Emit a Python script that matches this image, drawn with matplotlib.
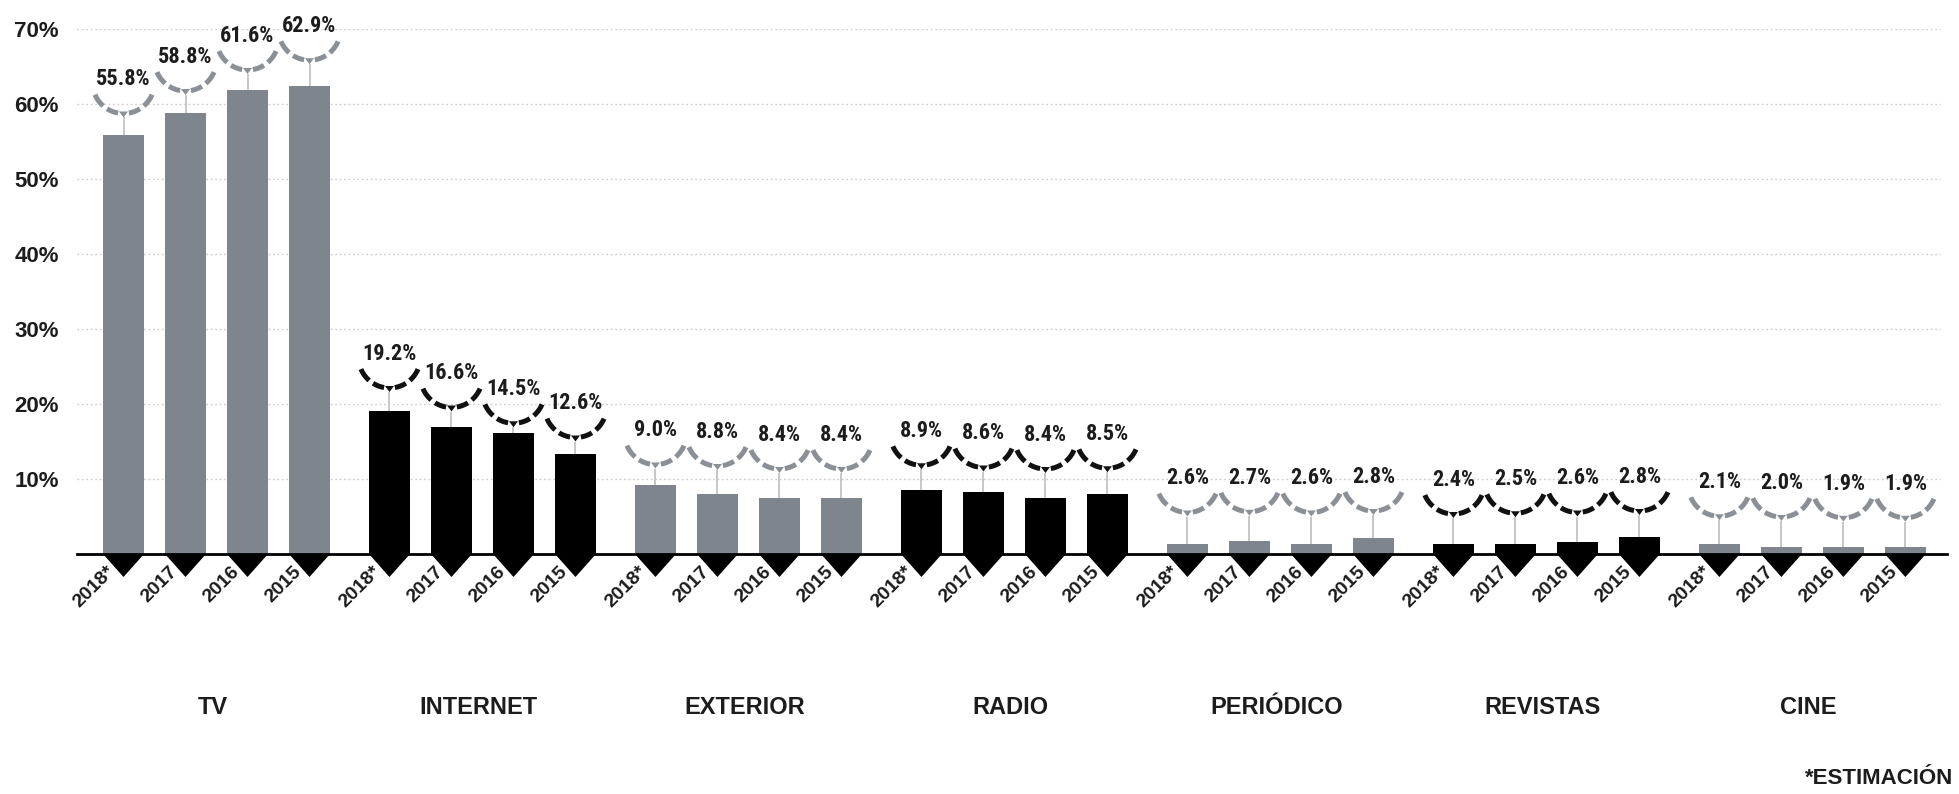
import matplotlib
matplotlib.use("Agg")
import numpy as np
import matplotlib.pyplot as plt
import matplotlib.transforms as mtransforms
from matplotlib.patches import Polygon
from matplotlib.lines import Line2D
from matplotlib import font_manager

# ---------------- data ----------------
categories = ["TV", "INTERNET", "EXTERIOR", "RADIO", "PERIÓDICO", "REVISTAS", "CINE"]
years = ["2018*", "2017", "2016", "2015"]

# printed shares (%)
tv = [55.8, 58.8, 61.6, 62.9]
internet = [19.2, 16.6, 14.5, 12.6]
exterior = [9.0, 8.8, 8.4, 8.4]
radio = [8.9, 8.6, 8.4, 8.5]
periodico = [2.6, 2.7, 2.6, 2.8]
revistas = [2.4, 2.5, 2.6, 2.8]
cine = [2.1, 2.0, 1.9, 1.9]

# bar heights as drawn in the picture (%)
tv_bars = [55.9, 58.8, 61.8, 62.4]
internet_bars = [19.1, 16.9, 16.1, 13.4]
exterior_bars = [9.2, 8.0, 7.5, 7.5]
radio_bars = [8.5, 8.3, 7.5, 8.0]
periodico_bars = [1.3, 1.7, 1.3, 2.1]
revistas_bars = [1.3, 1.3, 1.6, 2.3]
cine_bars = [1.3, 0.9, 0.9, 0.9]

y_ticks = [10, 20, 30, 40, 50, 60, 70]
y_tick_labels = ["10%", "20%", "30%", "40%", "50%", "60%", "70%"]
footnote = "*ESTIMACIÓN"

labels_by_group = [tv, internet, exterior, radio, periodico, revistas, cine]
bars_by_group = [tv_bars, internet_bars, exterior_bars, radio_bars,
                 periodico_bars, revistas_bars, cine_bars]

# ---------------- style ----------------
GRAY = "#7e858c"
ARC_GRAY = "#8a9096"
BLACK = "#000000"
TXT = "#1c1c1c"
group_colors = [GRAY, BLACK, GRAY, BLACK, GRAY, BLACK, GRAY]
arc_colors = [ARC_GRAY, "#111111", ARC_GRAY, "#111111", ARC_GRAY, "#111111", ARC_GRAY]


def pick(names):
    for n in names:
        try:
            font_manager.findfont(font_manager.FontProperties(family=n),
                                  fallback_to_default=False)
            return n
        except Exception:
            pass
    return "DejaVu Sans"


NUM_FONT = pick(["Liberation Sans Narrow", "Roboto Condensed", "Roboto"])
WORD_FONT = pick(["Liberation Sans", "Roboto", "DejaVu Sans"])

W, H = 1959, 794
DPI = 100
fig = plt.figure(figsize=(W / DPI, H / DPI), dpi=DPI)
fig.patch.set_facecolor("white")

ax_l, ax_r, ax_b, ax_t = 77, 1947, 554, 29  # pixel frame
ax = fig.add_axes([ax_l / W, 1 - ax_b / H, (ax_r - ax_l) / W, (ax_b - ax_t) / H])

G = 4.29          # group step (in bar steps)
BW = 0.66         # bar width
n_per = len(years)

ax.set_xlim(-0.75, -0.75 + (ax_r - ax_l) / 62.0)
ax.set_ylim(0, 70)

PT = 72.0 / DPI  # points per pixel

# grid
ax.set_yticks(y_ticks)
ax.set_yticklabels(y_tick_labels, fontsize=16, fontweight="bold",
                   family=WORD_FONT, color=TXT)
ax.tick_params(axis="y", length=0, pad=18 * PT)
ax.set_xticks([])
for y in y_ticks:
    ax.axhline(y, xmin=0, xmax=(1940 - ax_l) / (ax_r - ax_l), color="#cacaca",
               lw=1.0, ls=(0, (1.2, 2.0)), zorder=0.5)

for s in ["top", "right", "left"]:
    ax.spines[s].set_visible(False)
ax.spines["bottom"].set_color("black")
ax.spines["bottom"].set_linewidth(2.0)
ax.spines["bottom"].set_zorder(4)

fig.canvas.draw()
ppu = ax.transData.transform((0, 1))[1] - ax.transData.transform((0, 0))[1]
pxs = DPI / 100.0


def px_trans(x, y):
    return mtransforms.Affine2D().scale(pxs) + mtransforms.ScaledTranslation(x, y, ax.transData)


R = 31.0
ARC_BOTTOM = 22.0
arc_segments = [(-157, -131), (-122, -100), (-80, -58), (-49, -23)]

for g, (cat, vals, hts) in enumerate(zip(categories, labels_by_group, bars_by_group)):
    xs = g * G + np.arange(n_per)
    col = group_colors[g]
    acol = arc_colors[g]
    ax.bar(xs, hts, width=BW, color=col, zorder=2, linewidth=0)

    for i, (x, v, h, yr) in enumerate(zip(xs, vals, hts, years)):
        # downward triangle under the axis
        tri = Polygon([(-20.5, 0), (20.5, 0), (0, -23)], closed=True,
                      facecolor="black", edgecolor="none",
                      transform=px_trans(x, 0), clip_on=False, zorder=3)
        ax.add_patch(tri)

        # connector
        ax.plot([x, x], [h, v + (ARC_BOTTOM - 4) / ppu], color="#c3c3c3",
                lw=1.3, zorder=1.5, clip_on=False, solid_capstyle="butt")

        # dashed smile arc
        tr = px_trans(x, v)
        for a0, a1 in arc_segments:
            th = np.radians(np.linspace(a0, a1, 20))
            ln = Line2D(R * np.cos(th), ARC_BOTTOM + R + R * np.sin(th),
                        color=acol, lw=3.6, solid_capstyle="butt",
                        transform=tr, clip_on=False, zorder=5)
            ax.add_line(ln)
        mk = Polygon([(-4.5, ARC_BOTTOM + 2), (4.5, ARC_BOTTOM + 2), (0, ARC_BOTTOM - 4)],
                     closed=True, facecolor=acol, edgecolor="none",
                     transform=tr, clip_on=False, zorder=5)
        ax.add_patch(mk)

        # value label
        ax.annotate(f"{v:.1f}%", xy=(x, v), xytext=(0, 56 * PT),
                    textcoords="offset points", ha="center", va="center",
                    fontsize=16, fontweight="bold", family=NUM_FONT, color=TXT,
                    annotation_clip=False, zorder=6)

        # year label
        ax.annotate(yr, xy=(x, 0), xytext=(-11 * PT, -15 * PT),
                    textcoords="offset points", rotation=45,
                    rotation_mode="anchor", ha="right", va="center",
                    fontsize=14, fontweight="bold", family=WORD_FONT, color=TXT,
                    annotation_clip=False)

    # category label
    ax.annotate(cat, xy=(xs.mean(), 0), xytext=(-4 * PT, -153 * PT),
                textcoords="offset points", ha="center", va="center",
                fontsize=17, fontweight="bold", family=WORD_FONT, color=TXT,
                annotation_clip=False)

fig.text(1953 / W, 1 - 778 / H, footnote, ha="right", va="center",
         fontsize=16, fontweight="bold", family=WORD_FONT, color=TXT)

fig.savefig("out.png", dpi=DPI, facecolor="white")
